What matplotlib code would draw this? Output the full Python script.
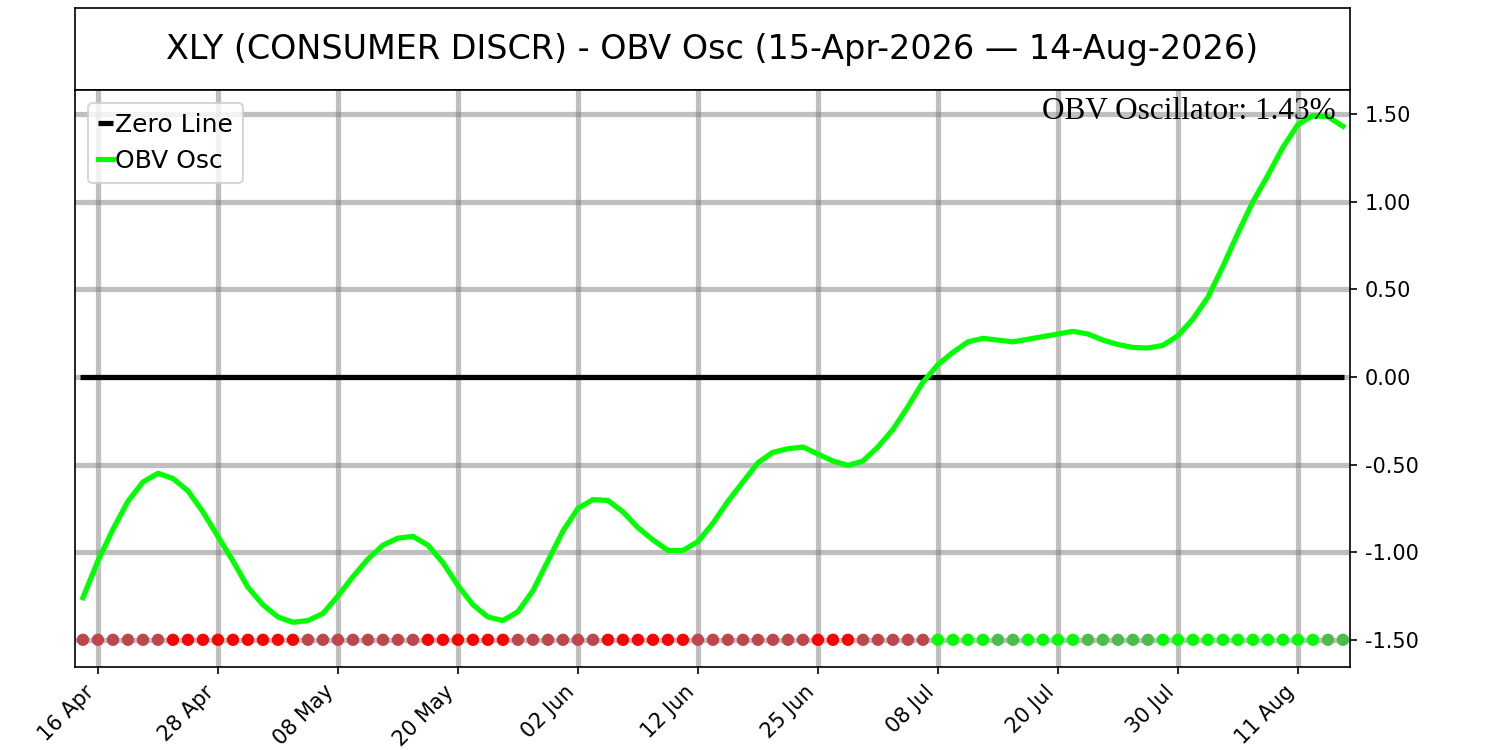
import numpy as np
import pandas as pd
import matplotlib
matplotlib.use("Agg")
import matplotlib.pyplot as plt

ticker = "XLY (CONSUMER DISCR)"
holidays = ["2026-05-25", "2026-06-19", "2026-07-03"]
days = pd.bdate_range("2026-04-15", "2026-08-14")
days = days[~days.isin(pd.to_datetime(holidays))]

# OBV oscillator values (one per trading day)
obv = np.array([
    -1.26, -1.05, -0.87, -0.71, -0.60, -0.55, -0.58, -0.65, -0.77, -0.91,
    -1.05, -1.20, -1.30, -1.37, -1.40, -1.39, -1.35, -1.25, -1.14, -1.04,
    -0.96, -0.92, -0.91, -0.96, -1.06, -1.19, -1.30, -1.37, -1.39, -1.34,
    -1.22, -1.05, -0.88, -0.75, -0.70, -0.705, -0.77, -0.86, -0.93, -0.99,
    -0.99, -0.94, -0.835, -0.71, -0.60, -0.49, -0.43, -0.41, -0.40, -0.44,
    -0.48, -0.505, -0.48, -0.40, -0.30, -0.17, -0.03, 0.07, 0.14, 0.20,
    0.22, 0.21, 0.20, 0.215, 0.23, 0.245, 0.26, 0.245, 0.21, 0.185,
    0.168, 0.165, 0.18, 0.235, 0.33, 0.455, 0.63, 0.82, 1.00, 1.15,
    1.31, 1.44, 1.49, 1.485, 1.43,
])

x = np.arange(len(obv))
rising = np.r_[True, np.diff(obv) > 0]
dot_colors = []
for v, r in zip(obv, rising):
    if v >= 0:
        dot_colors.append("#00ff00" if r else "#4bbd4b")
    else:
        dot_colors.append("#bf474b" if r else "#ff0000")

fig = plt.figure(figsize=(10, 5), dpi=150)
tax = fig.add_axes([0.05, 0.88, 0.85, 0.1093])
tax.set_xticks([])
tax.set_yticks([])
tax.text(0.5, 0.5, f"{ticker} - OBV Osc ({days[0]:%d-%b-%Y} \u2014 {days[-1]:%d-%b-%Y})",
         ha="center", va="center", fontsize=16, transform=tax.transAxes)

ax = fig.add_axes([0.05, 0.1107, 0.85, 0.7693])
ax.hlines(0, -0.2, len(obv) - 0.9, color="black", lw=2.5, label="Zero Line", zorder=3)
ax.plot(x, obv, color="#00ff00", lw=2.5, label="OBV Osc", zorder=4)
ax.scatter(x, np.full(len(obv), -1.5), c=dot_colors, s=24, zorder=5)

ax.set_xlim(-0.53, len(obv) - 0.53)
ax.set_ylim(-1.655, 1.637)
ticks = x[1::8]
ax.set_xticks(ticks)
ax.set_xticklabels([f"{days[i]:%d %b}" for i in ticks], rotation=45, ha="right")
ax.set_yticks(np.arange(-1.5, 1.51, 0.5))
ax.set_yticklabels([f"{t:.2f}" for t in np.arange(-1.5, 1.51, 0.5)])
ax.yaxis.tick_right()
ax.grid(True, color="gray", alpha=0.5, lw=2.5)
ax.set_axisbelow(True)

ax.text(0.989, 0.988, f"OBV Oscillator: {obv[-1]:.2f}%", transform=ax.transAxes,
        ha="right", va="top", fontsize=15, family="Liberation Serif", zorder=6)
ax.legend(loc="upper left", fontsize=12, handlelength=0.6, handletextpad=0.1,
          borderaxespad=0.5)

fig.savefig("out.png")
